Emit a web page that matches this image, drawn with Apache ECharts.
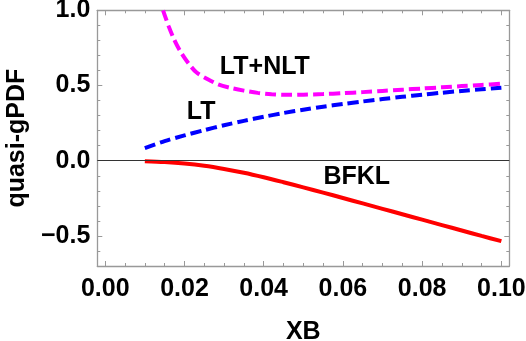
<!DOCTYPE html>
<html>
<head>
<meta charset="utf-8">
<script src="https://cdn.jsdelivr.net/npm/echarts@6.0.0/dist/echarts.min.js"></script>
<style>
html,body{margin:0;padding:0;background:#fff;}
#chart{width:526px;height:341px;}
</style>
</head>
<body>
<div id="chart"></div>
<script>
// ---- data ----
const xBFKL = [0.010,0.015,0.020,0.025,0.030,0.035,0.040,0.045,0.050,0.055,0.060,0.065,0.070,0.075,0.080,0.085,0.090,0.095,0.100];
const yBFKL = [-0.003,-0.009,-0.019,-0.034,-0.055,-0.080,-0.110,-0.143,-0.177,-0.212,-0.248,-0.284,-0.320,-0.356,-0.392,-0.428,-0.464,-0.500,-0.535];
const xLT = [0.010,0.015,0.020,0.025,0.030,0.035,0.040,0.045,0.050,0.055,0.060,0.065,0.070,0.075,0.080,0.085,0.090,0.095,0.100];
const yLT = [0.084,0.130,0.168,0.203,0.236,0.265,0.292,0.317,0.339,0.359,0.377,0.394,0.410,0.425,0.439,0.452,0.464,0.475,0.485];
const xNLT = [0.0146,0.016,0.0175,0.019,0.021,0.023,0.026,0.0285,0.0315,0.035,0.0385,0.042,0.046,0.050,0.055,0.060,0.065,0.070,0.075,0.080,0.085,0.090,0.095,0.100];
const yNLT = [1.000,0.895,0.800,0.725,0.648,0.588,0.540,0.508,0.485,0.466,0.451,0.442,0.438,0.439,0.443,0.449,0.456,0.464,0.472,0.480,0.488,0.496,0.504,0.512];
const xMajorTicks = [0.00,0.02,0.04,0.06,0.08,0.10];
const xMinorTicks = [0.005,0.010,0.015,0.025,0.030,0.035,0.045,0.050,0.055,0.065,0.070,0.075,0.085,0.090,0.095];
const yMajorTicks = [-0.5,0.0,0.5,1.0];
const yMinorTicks = [-0.7,-0.6,-0.4,-0.3,-0.2,-0.1,0.1,0.2,0.3,0.4,0.6,0.7,0.8,0.9];
const curveLabels = [
  {text:'LT+NLT', x:0.0403, y:0.624},
  {text:'LT', x:0.0242, y:0.322},
  {text:'BFKL', x:0.0635, y:-0.111}
];
const xName = 'XB';
const yName = 'quasi-gPDF';

const zip = (xs, ys) => xs.map((x, i) => [x, ys[i]]);
const FONT = '"Liberation Sans", Arial, sans-serif';
const FS = 25;
const frameColor = '#999999';
const XMIN = -0.002, XMAX = 0.102, YMIN = -0.7, YMAX = 1.0;

function xAxisDef(pos, major, showLabel, showLine, name) {
  return {
    type:'value', position:pos, min:XMIN, max:XMAX, gridIndex:0,
    name: name || '', nameLocation:'middle', nameGap:54,
    nameTextStyle:{fontFamily:FONT, fontWeight:'bold', fontSize:FS, color:'#000'},
    axisLine:{show:showLine, onZero:false, lineStyle:{color:frameColor, width:1.3}},
    axisTick:{show:true, inside:true, length: major ? 5 : 3, customValues: major ? xMajorTicks : xMinorTicks,
      lineStyle:{color:frameColor, width:1}},
    axisLabel:{show:showLabel, customValues:xMajorTicks, margin:11,
      fontFamily:FONT, fontWeight:'bold', fontSize:FS, color:'#000',
      formatter: v => v.toFixed(2)},
    splitLine:{show:false}
  };
}
function yAxisDef(pos, major, showLabel, showLine, name) {
  return {
    type:'value', position:pos, min:YMIN, max:YMAX, gridIndex:0,
    name: name || '', nameLocation:'middle', nameGap:68,
    nameTextStyle:{fontFamily:FONT, fontWeight:'bold', fontSize:FS, color:'#000'},
    axisLine:{show:showLine, onZero:false, lineStyle:{color:frameColor, width:1.3}},
    axisTick:{show:true, inside:true, length: major ? 5 : 3, customValues: major ? yMajorTicks : yMinorTicks,
      lineStyle:{color:frameColor, width:1}},
    axisLabel:{show:showLabel, customValues:yMajorTicks, margin:7,
      fontFamily:FONT, fontWeight:'bold', fontSize:FS, color:'#000',
      formatter: v => v.toFixed(1).replace('-', '\u2212')},
    splitLine:{show:false}
  };
}

const chart = echarts.init(document.getElementById('chart'), null, {renderer:'canvas'});
chart.setOption({
  animation:false,
  backgroundColor:'#fff',
  grid:{left:97.3, right:16.7, top:10.3, bottom:75, containLabel:false, outerBoundsMode:'none'},
  xAxis:[
    xAxisDef('bottom', true, true, true, xName),
    xAxisDef('bottom', false, false, false),
    xAxisDef('top', true, false, true),
    xAxisDef('top', false, false, false)
  ],
  yAxis:[
    yAxisDef('left', true, true, true, yName),
    yAxisDef('left', false, false, false),
    yAxisDef('right', true, false, true),
    yAxisDef('right', false, false, false)
  ],
  series:[
    {
      name:'BFKL', type:'line', xAxisIndex:0, yAxisIndex:0, data:zip(xBFKL, yBFKL),
      smooth:0.3, showSymbol:false, symbol:'none',
      lineStyle:{color:'#ff0000', width:4},
      markLine:{silent:true, symbol:'none', label:{show:false},
        lineStyle:{color:'#333333', width:1, type:'solid'},
        data:[{yAxis:0}], animation:false},
      z:3
    },
    {
      name:'LT', type:'line', xAxisIndex:0, yAxisIndex:0, data:zip(xLT, yLT),
      smooth:0.3, showSymbol:false, symbol:'none',
      lineStyle:{color:'#0000ff', width:4, type:[11,5]},
      z:3
    },
    {
      name:'LT+NLT', type:'line', xAxisIndex:0, yAxisIndex:0, data:zip(xNLT, yNLT),
      smooth:0.3, showSymbol:false, symbol:'none',
      lineStyle:{color:'#ff00ff', width:4, type:[11,5]},
      z:3
    }
  ]
});

const g = curveLabels.map(l => {
  const p = chart.convertToPixel({xAxisIndex:0, yAxisIndex:0}, [l.x, l.y]);
  return {type:'text', x:p[0], y:p[1], z:10,
    style:{text:l.text, fontFamily:FONT, fontWeight:'bold', fontSize:FS, fill:'#000',
      align:'center', verticalAlign:'middle'}};
});
chart.setOption({graphic:g});
</script>
</body>
</html>
